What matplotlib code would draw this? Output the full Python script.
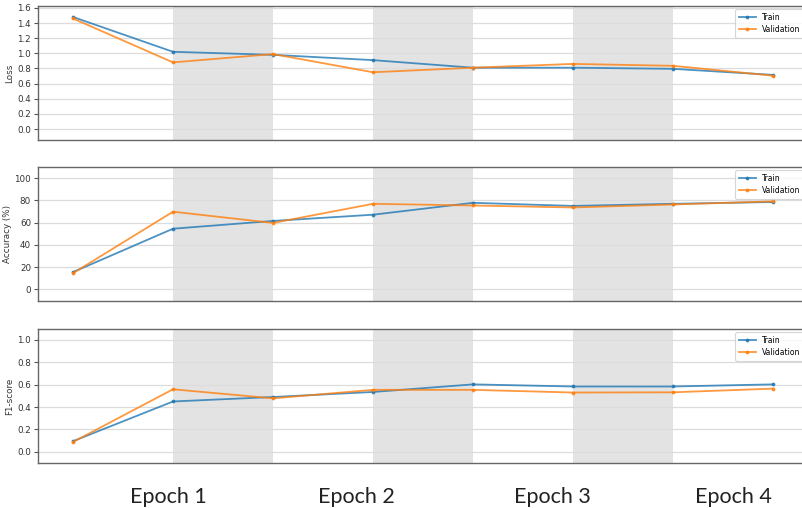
import matplotlib
matplotlib.use("Agg")
import matplotlib.pyplot as plt
import numpy as np

steps = [0, 1, 2, 3, 4, 5, 6, 7]
loss_train = [1.48, 1.02, 0.98, 0.91, 0.81, 0.81, 0.795, 0.715]
loss_val = [1.46, 0.88, 0.99, 0.75, 0.81, 0.86, 0.835, 0.705]
acc_train = [15.5, 54.5, 61.5, 67.1, 77.8, 75.0, 76.9, 78.5]
acc_val = [14.5, 69.8, 59.7, 76.9, 75.4, 73.6, 76.3, 79.1]
f1_train = [0.095, 0.45, 0.49, 0.535, 0.603, 0.584, 0.584, 0.603]
f1_val = [0.088, 0.559, 0.478, 0.554, 0.554, 0.530, 0.532, 0.565]
shade_spans = [(1, 2), (3, 4), (5, 6)]
epoch_labels = ["Epoch 1", "Epoch 2", "Epoch 3", "Epoch 4"]
epoch_x_px = [168, 356, 552, 733]

panels = [
    ("Loss", loss_train, loss_val, (-0.145, 1.625), [0.0, 0.2, 0.4, 0.6, 0.8, 1.0, 1.2, 1.4, 1.6], "{:.1f}"),
    ("Accuracy (%)", acc_train, acc_val, (-10.5, 110), [0, 20, 40, 60, 80, 100], "{:d}"),
    ("F1-score", f1_train, f1_val, (-0.1, 1.098), [0.0, 0.2, 0.4, 0.6, 0.8, 1.0], "{:.1f}"),
]

W, H = 802, 508
fig = plt.figure(figsize=(W / 100, H / 100), dpi=100)
tops = [6, 167, 329]
ax_h = 134
left, right = 38, 815
px_per_unit = 100.0
x0 = -0.35

for (ylabel, tr, va, ylim, yt, fmt), top in zip(panels, tops):
    ax = fig.add_axes([left / W, 1 - (top + ax_h) / H, (right - left) / W, ax_h / H])
    for a, b in shade_spans:
        ax.axvspan(a, b, color="gray", alpha=0.22, lw=0, zorder=0)
    ax.grid(axis="y", color="#dcdcdc", lw=0.9, zorder=1)
    ax.plot(steps, tr, marker=".", ms=3.5, lw=1.3, color="#1f77b4", alpha=0.8, label="Train", zorder=3)
    ax.plot(steps, va, marker=".", ms=3.5, lw=1.3, color="#ff7f0e", alpha=0.8, label="Validation", zorder=3)
    ax.set_xlim(x0, x0 + (right - left) / px_per_unit)
    ax.set_ylim(*ylim)
    ax.set_yticks(yt)
    ax.set_yticklabels([fmt.format(v) for v in yt], fontsize=6.3, color="#333333")
    ax.set_xticks([])
    ax.tick_params(axis="y", length=3, width=0.8, color="#555555", pad=2)
    ax.set_ylabel(ylabel, fontsize=6.3, color="#333333", labelpad=2)
    for s in ax.spines.values():
        s.set_color("#666666")
        s.set_linewidth(1.0)
    ax.set_axisbelow(True)
    leg = ax.legend(loc="upper right", fontsize=5.5, frameon=True, fancybox=True,
                    borderpad=0.5, handlelength=2.2, labelspacing=0.4,
                    bbox_to_anchor=(804 / W, 1 - (top + 3) / H),
                    bbox_transform=fig.transFigure, borderaxespad=0)
    leg.get_frame().set_edgecolor("#cccccc")
    leg.get_frame().set_linewidth(0.8)

for lab, xp in zip(epoch_labels, epoch_x_px):
    fig.text(xp / W, 1 - 497 / H, lab, ha="center", va="center", fontsize=15.5,
             family="Lato", color="#222222")

fig.savefig("out.png", dpi=100)
